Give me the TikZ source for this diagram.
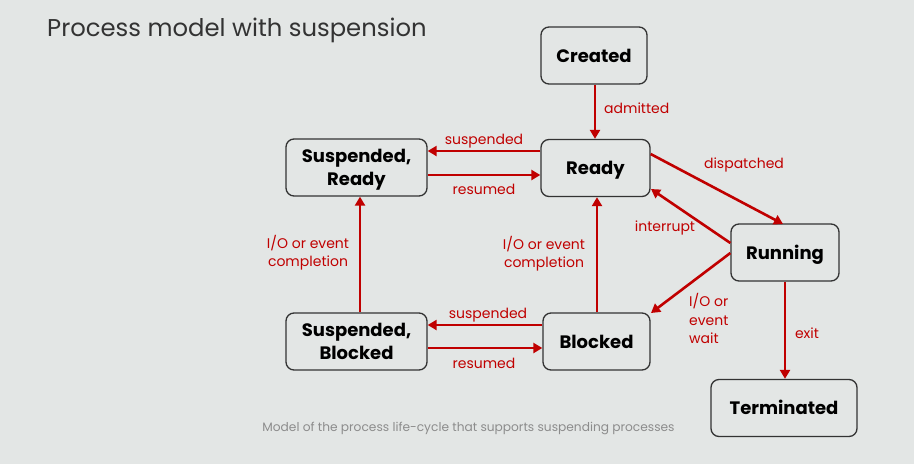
\documentclass[tikz,border=0pt]{standalone}
\usepackage{fontspec}
\setmainfont{Poppins}
\usetikzlibrary{arrows.meta}
\definecolor{bg}{HTML}{E3E6E5}
\definecolor{arrowred}{HTML}{C00000}
\definecolor{titlegray}{HTML}{333333}
\definecolor{capgray}{HTML}{8C8C8C}
\tikzset{
  state/.style={draw=black!80, line width=1.3pt, rounded corners=8pt, fill=bg,
    minimum width=#1, minimum height=57pt, align=center, inner sep=0pt,
    font=\fontsize{18}{22.5}\selectfont\bfseries},
  state/.default=107pt,
  trans/.style={draw=arrowred, line width=2.6pt, -{Triangle[length=9pt,width=10pt]}},
  lab/.style={text=arrowred, font=\fontsize{14}{18.5}\selectfont, inner sep=0pt, yshift=-1.5pt}
}
% state text, lowered slightly inside its box without changing the box size
\newcommand{\statetext}[1]{\raisebox{-2pt}[\height][\depth]{\begin{tabular}{@{}c@{}}#1\end{tabular}}}
\begin{document}
\begin{tikzpicture}[x=1pt,y=-1pt]
\fill[bg] (0,0) rectangle (914,464);
\useasboundingbox (0,0) rectangle (914,464);

\node[anchor=west, text=titlegray, font=\fontsize{24.3}{28}\selectfont, inner sep=0pt] (title) at (47,30) {Process model with suspension};

\node[state=106pt] (created) at (594,55.5) {\statetext{Created}};
\node[state=109pt] (ready) at (595.5,168) {\statetext{Ready}};
\node[state=141pt] (sready) at (356.5,167.5) {\statetext{Suspended,\\[0.5pt]Ready}};
\node[state=108pt] (running) at (785,252.5) {\statetext{Running}};
\node[state=141pt] (sblocked) at (356.5,341.5) {\statetext{Suspended,\\[0.5pt]Blocked}};
\node[state=107pt] (blocked) at (596.5,341.5) {\statetext{Blocked}};
\node[state=146pt] (term) at (784,408) {\statetext{Terminated}};

% admitted
\draw[trans] (created.south -| 595,0) -- (ready.north -| 595,0);
\node[lab, anchor=west] (ladm) at (604,107) {admitted};

% ready <-> suspended ready
\draw[trans] (ready.west |- 0,151) -- (sready.east |- 0,151);
\node[lab] (lsus1) at (484,140) {suspended};
\draw[trans] (sready.east |- 0,175) -- (ready.west |- 0,175);
\node[lab] (lres1) at (484,188) {resumed};

% ready <-> running
\draw[trans] (ready.east |- 0,154) -- (783,224);
\node[lab] (ldisp) at (744,163) {dispatched};
\draw[trans] (running.west |- 0,243) -- (651,189);
\node[lab] (lint) at (665,226) {interrupt};

% running -> blocked
\draw[trans] (running.west |- 0,253) -- (651,313);
\node[lab, anchor=north west, align=left] (lwait) at (689,292) {I/O or\\event\\wait};

% running -> terminated
\draw[trans] (running.south -| 785,0) -- (term.north -| 785,0);
\node[lab] (lexit) at (807,332) {exit};

% blocked -> ready
\draw[trans] (blocked.north -| 597,0) -- (ready.south -| 597,0);
\node[lab, align=center] (lcomp1) at (544,252) {I/O or event\\completion};

% suspended blocked -> suspended ready
\draw[trans] (sblocked.north -| 360,0) -- (sready.south -| 360,0);
\node[lab, align=center] (lcomp2) at (308,251) {I/O or event\\completion};

% blocked <-> suspended blocked
\draw[trans] (blocked.west |- 0,325) -- (sblocked.east |- 0,325);
\node[lab] (lsus2) at (488,314) {suspended};
\draw[trans] (sblocked.east |- 0,348) -- (blocked.west |- 0,348);
\node[lab] (lres2) at (484,362) {resumed};

\node[text=capgray, font=\fontsize{12.2}{14}\selectfont, inner sep=0pt] (cap) at (468.5,428) {Model of the process life-cycle that supports suspending processes};
\end{tikzpicture}
\end{document}
